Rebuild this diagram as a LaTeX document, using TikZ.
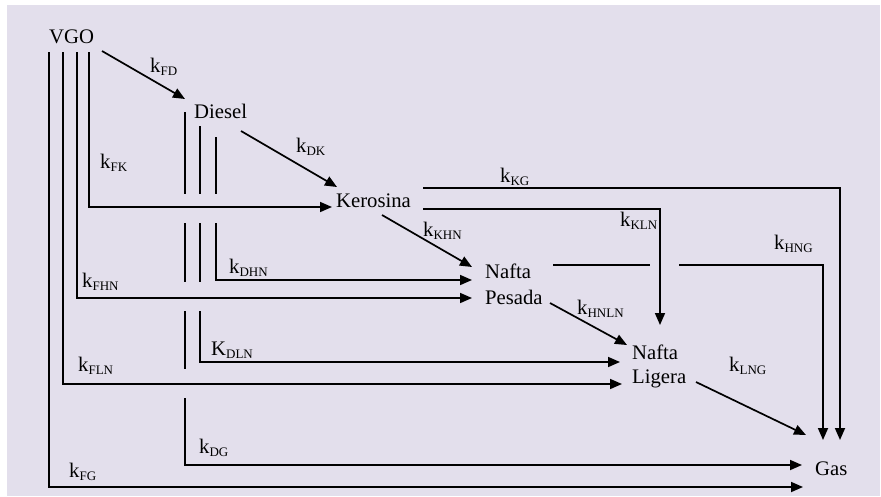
\documentclass[tikz,border=0pt]{standalone}
\usepackage{fontspec}
\setmainfont{Liberation Serif}
\usetikzlibrary{arrows.meta}
\definecolor{panel}{RGB}{227,223,236}
% rate constant: letter with a lowered, smaller subscript
\newcommand\rate[2]{#1\raisebox{-3pt}{\fontsize{13}{13}\selectfont #2}}
\begin{document}
\begin{tikzpicture}[x=1pt,y=-1pt,
  flow/.style={line width=1.7pt, line join=miter},
  arr/.style={flow, -{Triangle[length=12pt,width=10pt]}},
  species/.style={anchor=base west, inner sep=0pt, font=\fontsize{20.7}{24}\selectfont},
  rlabel/.style={anchor=base west, inner sep=0pt, font=\fontsize{20.7}{24}\selectfont}]

\useasboundingbox (0,0) rectangle (881,496);
\fill[panel] (7,5) rectangle (880,496);

% lumps
\node[species] (vgo) at (49,43) {VGO};
\node[species] (die) at (194,118) {Diesel};
\node[species] (ker) at (336,207) {Kerosina};
\node[species] (hn)  at (485,278) {Nafta};
\node[species] (hn2) at (485,304) {Pesada};
\node[species] (ln)  at (632,359) {Nafta};
\node[species] (ln2) at (632,383) {Ligera};
\node[species] (gas) at (815,475) {Gas};

% rate constants
\node[rlabel] (kfd)   at (150,72)  {\rate{k}{FD}};
\node[rlabel] (kdk)   at (296,152) {\rate{k}{DK}};
\node[rlabel] (kfk)   at (100,168) {\rate{k}{FK}};
\node[rlabel] (kkg)   at (500,182) {\rate{k}{KG}};
\node[rlabel] (kkln)  at (620,226) {\rate{k}{KLN}};
\node[rlabel] (kkhn)  at (423,236) {\rate{k}{KHN}};
\node[rlabel] (khng)  at (774,249) {\rate{k}{HNG}};
\node[rlabel] (kdhn)  at (229,273) {\rate{k}{DHN}};
\node[rlabel] (kfhn)  at (82,287)  {\rate{k}{FHN}};
\node[rlabel] (khnln) at (577,314) {\rate{k}{HNLN}};
\node[rlabel] (kdln)  at (211,355) {\rate{K}{DLN}};
\node[rlabel] (kfln)  at (78,371)  {\rate{k}{FLN}};
\node[rlabel] (klng)  at (729,371) {\rate{k}{LNG}};
\node[rlabel] (kdg)   at (199,453) {\rate{k}{DG}};
\node[rlabel] (kfg)   at (69,477)  {\rate{k}{FG}};

% routing points
\coordinate (vgoA) at (49,52);  \coordinate (vgoB) at (63,52);
\coordinate (vgoC) at (77,52);  \coordinate (vgoD) at (89,52);
\coordinate (vgoE) at (102,51); \coordinate (dieIn) at (185,99);
\coordinate (fgC) at (49,487);  \coordinate (fgT) at (803,487);
\coordinate (flnC) at (63,384); \coordinate (flnT) at (622,384);
\coordinate (fhnC) at (77,298); \coordinate (fhnT) at (472,298);
\coordinate (fkC) at (89,207);  \coordinate (fkT) at (332,207);
\coordinate (dieE) at (241,131); \coordinate (kerIn) at (337,187);
\coordinate (dgC) at (185,465); \coordinate (dgT) at (802,465);
\coordinate (dlnC) at (200,362); \coordinate (dlnT) at (620,362);
\coordinate (dhnC) at (216,280); \coordinate (dhnT) at (472,280);
\coordinate (kgS) at (423,188);  \coordinate (kgC) at (840,188); \coordinate (kgT) at (840,440);
\coordinate (klnS) at (423,209); \coordinate (klnC) at (660,209); \coordinate (klnT) at (660,325);
\coordinate (kerE) at (382,215); \coordinate (hnIn) at (472,267);
\coordinate (hngS) at (553,265); \coordinate (hngG1) at (650,265);
\coordinate (hngG2) at (679,265); \coordinate (hngC) at (823,265); \coordinate (hngT) at (823,440);
\coordinate (hnE) at (550,303);  \coordinate (lnIn) at (627,345);
\coordinate (lnE) at (696,382);  \coordinate (gasIn) at (806,435);

% VGO cracking paths
\draw[arr] (vgoA) -- (fgC) -- (fgT);
\draw[arr] (vgoB) -- (flnC) -- (flnT);
\draw[arr] (vgoC) -- (fhnC) -- (fhnT);
\draw[arr] (vgoD) -- (fkC) -- (fkT);
\draw[arr] (vgoE) -- (dieIn);

% Diesel paths, broken where VGO lines pass
\draw[flow] (185,112) -- (185,194) (185,223) -- (185,282)
            (185,311) -- (185,369);
\draw[arr] (185,398) -- (dgC) -- (dgT);
\draw[flow] (200,126) -- (200,194) (200,223) -- (200,282);
\draw[arr] (200,311) -- (dlnC) -- (dlnT);
\draw[flow] (216,137) -- (216,194);
\draw[arr] (216,223) -- (dhnC) -- (dhnT);
\draw[arr] (dieE) -- (kerIn);

% Kerosina paths
\draw[arr] (kgS) -- (kgC) -- (kgT);
\draw[arr] (klnS) -- (klnC) -- (klnT);
\draw[arr] (kerE) -- (hnIn);

% Heavy naphtha paths
\draw[flow] (hngS) -- (hngG1);
\draw[arr] (hngG2) -- (hngC) -- (hngT);
\draw[arr] (hnE) -- (lnIn);

% Light naphtha to gas
\draw[arr] (lnE) -- (gasIn);
\end{tikzpicture}
\end{document}
